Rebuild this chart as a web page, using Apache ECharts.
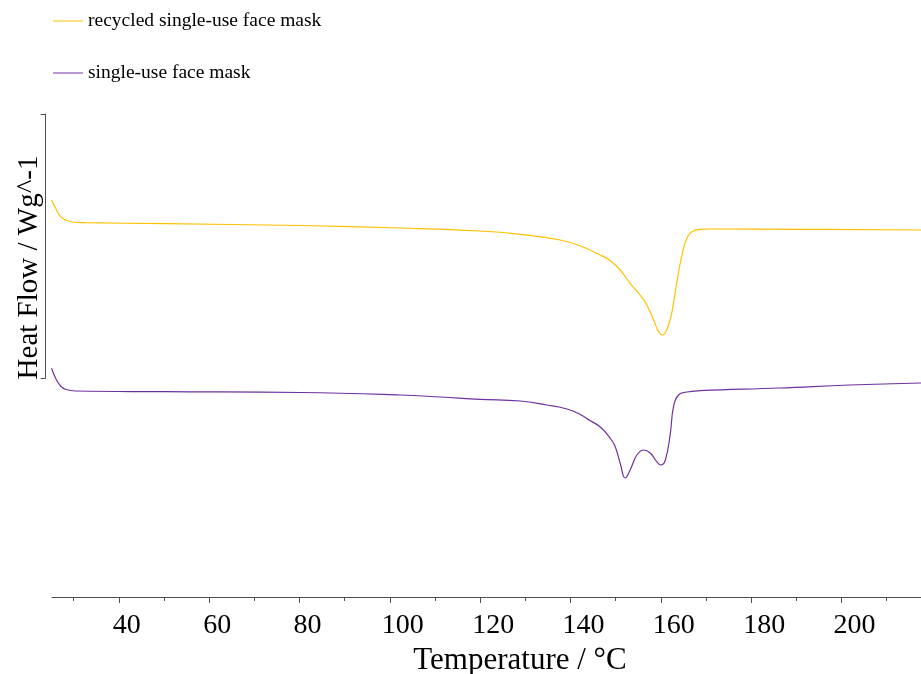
<!DOCTYPE html>
<html>
<head>
<meta charset="utf-8">
<script src="https://cdn.jsdelivr.net/npm/echarts@6/dist/echarts.min.js"></script>
<style>html,body{margin:0;padding:0;background:#fff;overflow:hidden}#c{width:921px;height:674px}</style>
</head>
<body>
<div id="c"></div>
<script>
// Data (temperature in °C, heat flow in arbitrary units)
const seriesNames = ['recycled single-use face mask', 'single-use face mask'];
const recycledT  = [25.1, 26.0, 27.1, 28.2, 29.7, 32.6, 50.3, 80.2, 102.3, 120.0, 128.9, 137.7, 142.1, 146.6, 148.8, 151.0, 153.2, 155.4, 156.9, 158.4, 159.5, 160.4, 161.3, 162.4, 163.5, 164.6, 165.75, 166.9, 168.7, 170.9, 190.8, 217.6];
const recycledHF = [39.7, 38.87, 38.03, 37.7, 37.5, 37.43, 37.33, 37.15, 36.9, 36.6, 36.27, 35.7, 35.13, 34.2, 33.63, 32.7, 31.37, 30.2, 29.2, 27.7, 26.53, 26.2, 26.7, 28.37, 31.37, 34.03, 35.87, 36.53, 36.77, 36.8, 36.77, 36.7];
const maskT  = [25.1, 26.0, 27.1, 28.2, 30.4, 50.3, 80.2, 102.3, 111.2, 120.0, 128.9, 134.8, 139.2, 142.1, 144.3, 146.6, 148.8, 149.9, 151.0, 152.1, 153.2, 154.7, 156.2, 157.7, 159.1, 160.0, 161.0, 162.1, 162.8, 163.9, 165.75, 168.7, 186.3, 201.8, 217.6];
const maskHF = [22.87, 21.87, 21.1, 20.77, 20.6, 20.53, 20.45, 20.2, 20.0, 19.77, 19.6, 19.2, 18.8, 18.27, 17.65, 17.0, 15.87, 15.03, 13.37, 11.9, 12.7, 14.2, 14.7, 14.37, 13.53, 13.2, 13.7, 16.37, 19.03, 20.2, 20.5, 20.63, 20.9, 21.2, 21.4];
const majorTicks = [40, 60, 80, 100, 120, 140, 160, 180, 200];
const minorTicks = [30, 50, 70, 90, 110, 130, 150, 170, 190, 210];
const xName = 'Temperature / °C';
const yName = 'Heat Flow / Wg^-1';

const font = 'Liberation Serif, Times New Roman, serif';
const axisColor = '#505050';
const zip = (a, b) => a.map((v, i) => [v, b[i]]);
const tickLabelStyle = {fontFamily: font, fontSize: 28, color: '#000'};

const chart = echarts.init(document.getElementById('c'), null, {renderer: 'canvas', width: 921, height: 674});
chart.setOption({
  animation: false,
  backgroundColor: '#ffffff',
  legend: {
    orient: 'vertical', left: 48, top: 6,
    icon: 'rect', itemWidth: 30, itemHeight: 1, itemGap: 32,
    textStyle: {fontFamily: font, fontSize: 19.5, color: '#000', lineHeight: 20},
    data: seriesNames
  },
  grid: [
    {left: 52, right: 0, top: 114, height: 483, containLabel: false, outerBoundsMode: 'none'},
    {left: 45.7, top: 114, height: 264, width: 1, containLabel: false, outerBoundsMode: 'none'}
  ],
  xAxis: [
    {
      type: 'value', gridIndex: 0, position: 'bottom', min: 25.2, max: 217.6,
      name: xName, nameLocation: 'middle', nameGap: 45,
      nameTextStyle: {fontFamily: font, fontSize: 31, color: '#000', padding: [0, 0, 0, 67]},
      axisLine: {show: true, lineStyle: {color: axisColor, width: 1}},
      axisTick: {show: true, customValues: majorTicks, length: 6, lineStyle: {color: axisColor}},
      axisLabel: {
        show: true, customValues: majorTicks, margin: 15,
        fontFamily: font, fontSize: 28, color: '#000',
        formatter: v => (v < 100 ? '{a|' + v + '}' : '{b|' + v + '}'),
        rich: {
          a: Object.assign({padding: [0, 0, 0, 16]}, tickLabelStyle),
          b: Object.assign({padding: [0, 0, 0, 26]}, tickLabelStyle)
        }
      },
      splitLine: {show: false}
    },
    {
      type: 'value', gridIndex: 0, position: 'bottom', min: 25.2, max: 217.6,
      axisLine: {show: false},
      axisTick: {show: true, customValues: minorTicks, length: 4, lineStyle: {color: axisColor}},
      axisLabel: {show: false},
      splitLine: {show: false}
    },
    {type: 'value', gridIndex: 1, show: false, min: 0, max: 1}
  ],
  yAxis: [
    {type: 'value', gridIndex: 0, min: 0, max: 48.3, show: false},
    {
      type: 'value', gridIndex: 1, min: 0, max: 1, interval: 1,
      name: yName, nameLocation: 'middle', nameGap: 2,
      nameTextStyle: {fontFamily: font, fontSize: 29, color: '#000', padding: [0, 43, 0, 0]},
      axisLine: {show: true, lineStyle: {color: axisColor, width: 1}},
      axisTick: {show: true, length: 5, lineStyle: {color: axisColor}},
      axisLabel: {show: false},
      splitLine: {show: false}
    }
  ],
  series: [
    {
      name: seriesNames[0], type: 'line', xAxisIndex: 0, yAxisIndex: 0,
      data: zip(recycledT, recycledHF), showSymbol: false, smooth: 0.45,
      lineStyle: {color: '#FFC000', width: 1.2}, itemStyle: {color: '#FFC000'}
    },
    {
      name: seriesNames[1], type: 'line', xAxisIndex: 0, yAxisIndex: 0,
      data: zip(maskT, maskHF), showSymbol: false, smooth: 0.45,
      lineStyle: {color: '#7030A0', width: 1.2}, itemStyle: {color: '#7030A0'}
    }
  ]
});
</script>
</body>
</html>
